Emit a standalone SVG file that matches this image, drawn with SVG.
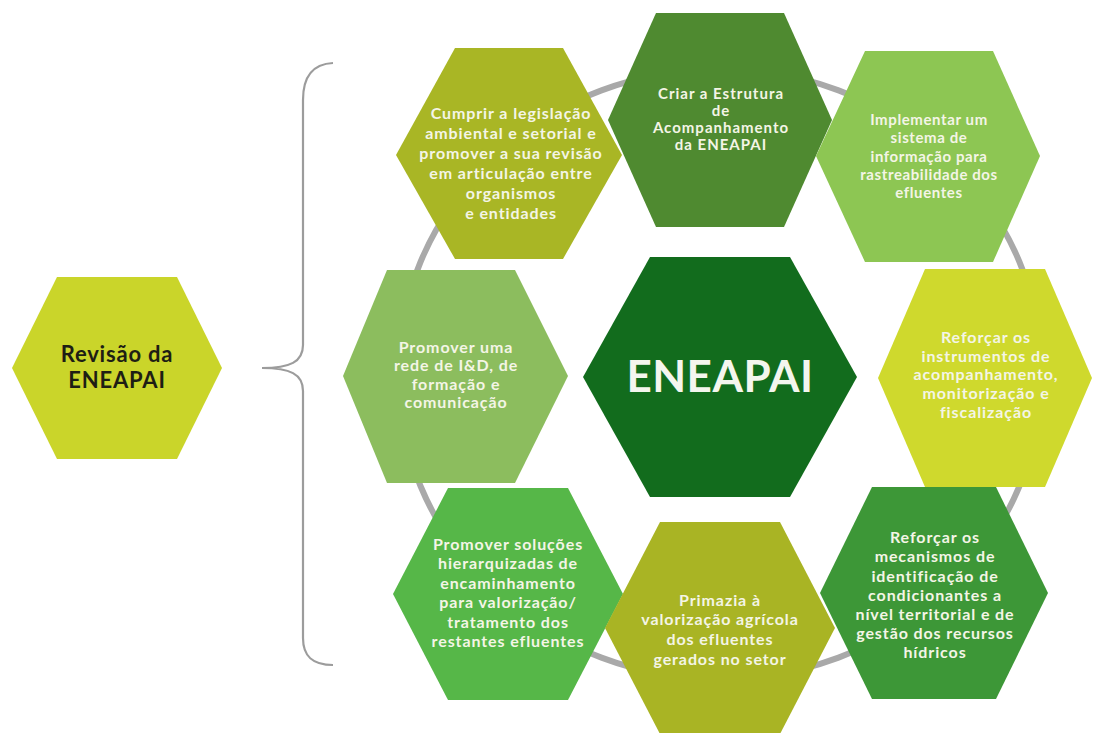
<svg xmlns="http://www.w3.org/2000/svg" width="1093" height="733" viewBox="0 0 1093 733">
<style>
.hex{stroke:none}
.t{font-family:Lato,"Open Sans","DejaVu Sans",sans-serif;font-weight:700;font-size:16px;letter-spacing:0.9px;fill:#F4F5E6;text-anchor:middle}
.dark{fill:#1E1E14;font-size:22px;letter-spacing:0.8px}
.big{font-size:44px;letter-spacing:0.5px;fill:#F4F6EE}
.md{font-size:15px;letter-spacing:1px}
.sm{font-size:15px;letter-spacing:0.6px}
.ring{fill:none;stroke:#A9A9A9;stroke-width:6}
.brace{fill:none;stroke:#9C9C9C;stroke-width:2.2}
</style>
<rect width="1093" height="733" fill="#FFFFFF"/>
<g id="connectors">
<ellipse class="ring" cx="720" cy="374" rx="322" ry="305"/>
<path class="brace" d="M333,63 C312,64 303,78 303,100 L303,345 C303,362 290,368 262,368 C290,368 303,374 303,391 L303,638 C303,656 312,665 333,665"/>
</g>
<g id="revisao">
<polygon class="hex" fill="#CAD52A" points="12,368 57,277 177,277 222,368 177,459 57,459"/>
<text class="t dark" x="117" y="362">Revisão da</text>
<text class="t dark" x="117" y="388">ENEAPAI</text>
</g>
<g id="criar">
<polygon class="hex" fill="#4F8A30" points="608,120 656,13 784,13 832,120 784,227 656,227"/>
<text class="t md" x="721" y="99">Criar a Estrutura</text>
<text class="t md" x="721" y="116">de</text>
<text class="t md" x="721" y="133">Acompanhamento</text>
<text class="t md" x="721" y="150">da ENEAPAI</text>
</g>
<g id="cumprir">
<polygon class="hex" fill="#A9B625" points="396,155 455,48 563,48 622,155 563,259 455,259"/>
<text class="t" x="511" y="119">Cumprir a legislação</text>
<text class="t" x="511" y="139">ambiental e setorial e</text>
<text class="t" x="511" y="159">promover a sua revisão</text>
<text class="t" x="511" y="179">em articulação entre</text>
<text class="t" x="511" y="199">organismos</text>
<text class="t" x="511" y="219">e entidades</text>
</g>
<g id="implementar">
<polygon class="hex" fill="#8DC653" points="816,156 865,51 993,51 1040,156 993,262 865,262"/>
<text class="t sm" x="929" y="125">Implementar um</text>
<text class="t sm" x="929" y="143">sistema de</text>
<text class="t sm" x="929" y="162">informação para</text>
<text class="t sm" x="929" y="180">rastreabilidade dos</text>
<text class="t sm" x="929" y="198">efluentes</text>
</g>
<g id="rede">
<polygon class="hex" fill="#8CBD5E" points="343,376 387,270 515,270 568,376 515,483 387,483"/>
<text class="t" x="456" y="353">Promover uma</text>
<text class="t" x="456" y="371">rede de I&amp;D, de</text>
<text class="t" x="456" y="390">formação e</text>
<text class="t" x="456" y="408">comunicação</text>
</g>
<g id="eneapai">
<polygon class="hex" fill="#126C1D" points="583,377 650,257 790,257 857,377 790,497 650,497"/>
<text class="t big" x="720" y="392">ENEAPAI</text>
</g>
<g id="instrumentos">
<polygon class="hex" fill="#CFD92D" points="878,378 925,269 1045,269 1092,378 1045,487 925,487"/>
<text class="t" x="986" y="343">Reforçar os</text>
<text class="t" x="986" y="362">instrumentos de</text>
<text class="t" x="986" y="380">acompanhamento,</text>
<text class="t" x="986" y="399">monitorização e</text>
<text class="t" x="986" y="418">fiscalização</text>
</g>
<g id="solucoes">
<polygon class="hex" fill="#56B748" points="393,594 448,488 568,488 623,594 568,700 448,700"/>
<text class="t" x="508" y="550">Promover soluções</text>
<text class="t" x="508" y="569">hierarquizadas de</text>
<text class="t" x="508" y="589">encaminhamento</text>
<text class="t" x="508" y="608">para valorização/</text>
<text class="t" x="508" y="628">tratamento dos</text>
<text class="t" x="508" y="647">restantes efluentes</text>
</g>
<g id="primazia">
<polygon class="hex" fill="#A9B424" points="605,628 660,522 780,522 835,628 780,734 660,734"/>
<text class="t" x="720" y="606">Primazia à</text>
<text class="t" x="720" y="625">valorização agrícola</text>
<text class="t" x="720" y="645">dos efluentes</text>
<text class="t" x="720" y="665">gerados no setor</text>
</g>
<g id="mecanismos">
<polygon class="hex" fill="#3D9737" points="820,593 872,487 996,487 1048,593 996,699 872,699"/>
<text class="t" x="935" y="543">Reforçar os</text>
<text class="t" x="935" y="562">mecanismos de</text>
<text class="t" x="935" y="582">identificação de</text>
<text class="t" x="935" y="601">condicionantes a</text>
<text class="t" x="935" y="620">nível territorial e de</text>
<text class="t" x="935" y="639">gestão dos recursos</text>
<text class="t" x="935" y="658">hídricos</text>
</g>
</svg>
